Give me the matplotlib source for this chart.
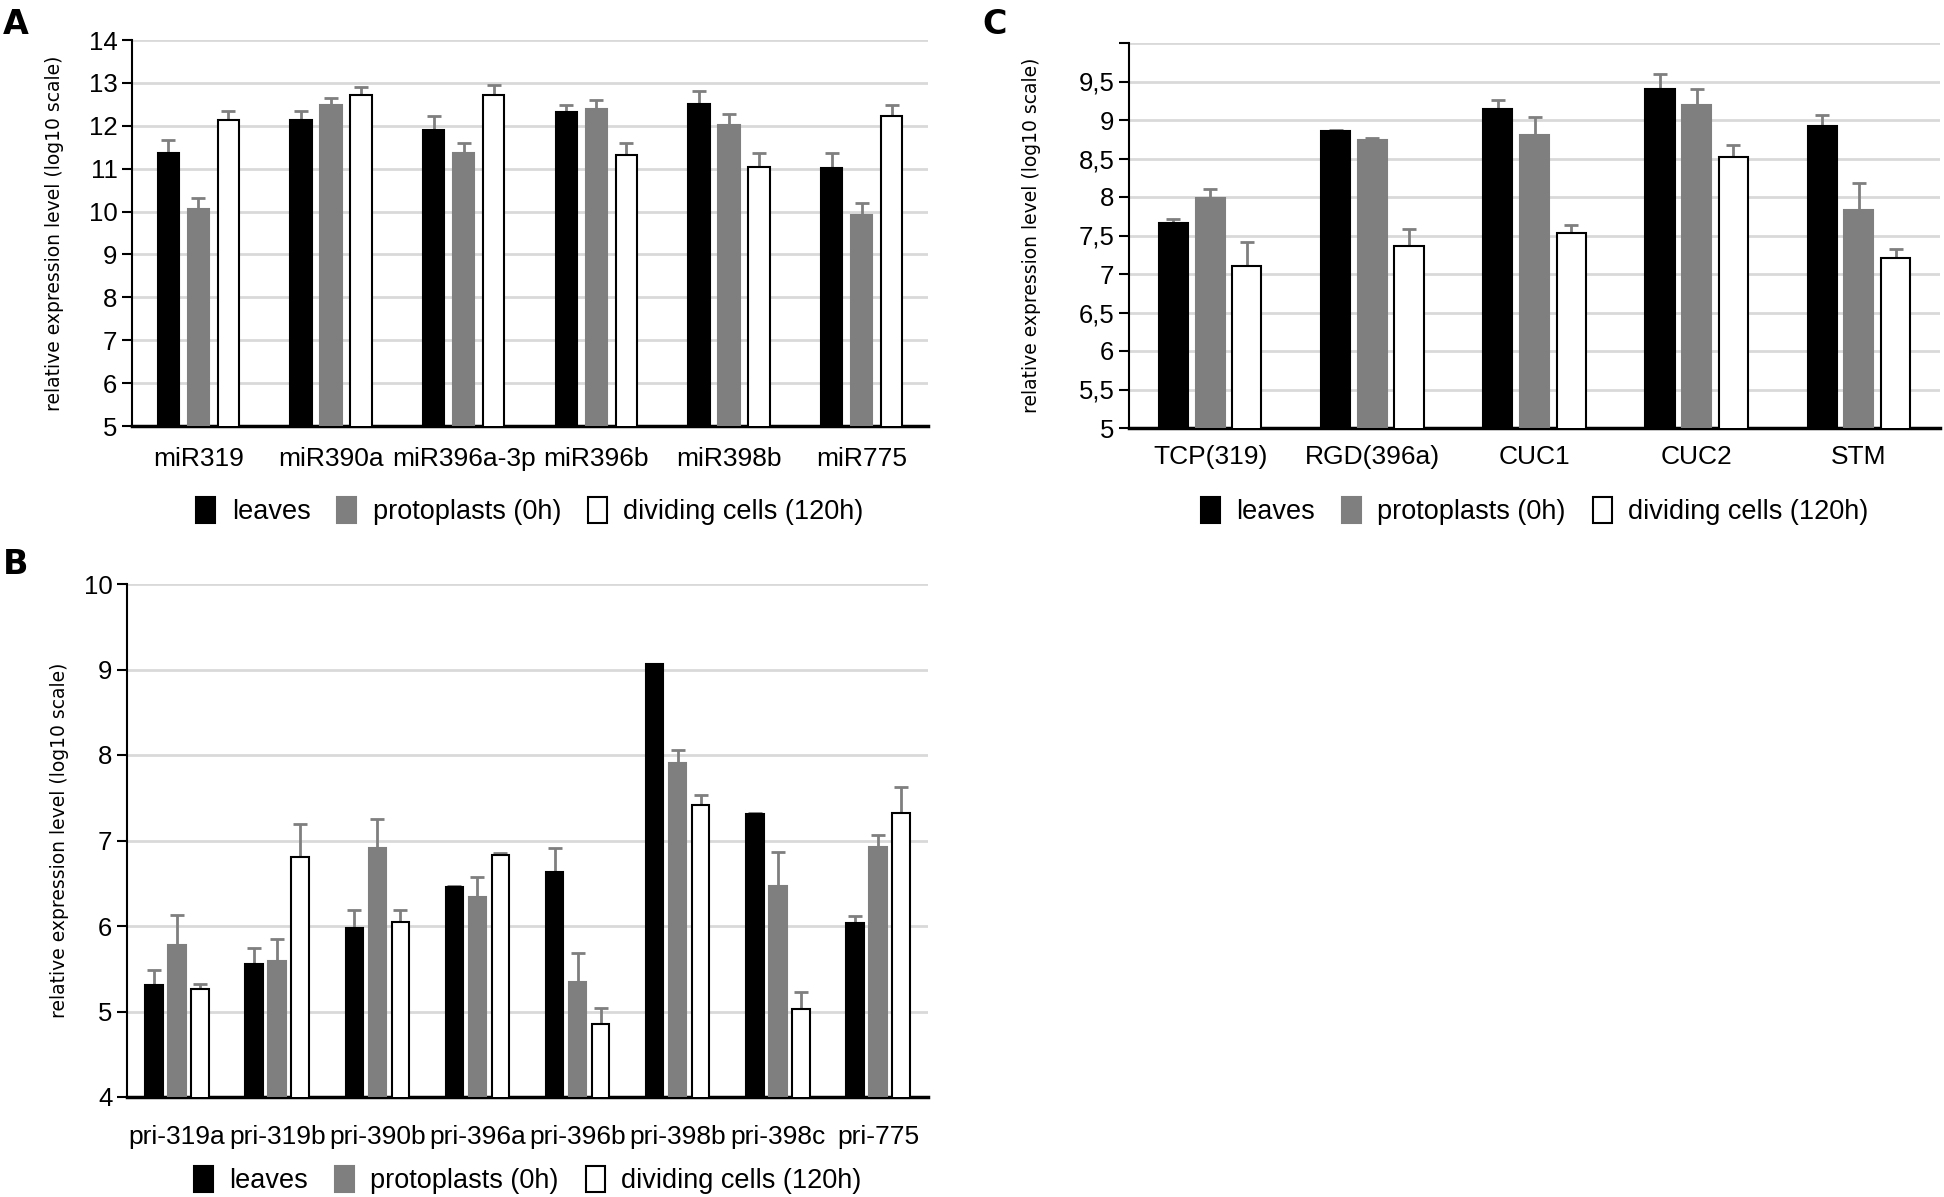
import matplotlib
matplotlib.use('Agg')
import matplotlib.pyplot as plt
import numpy as np
from matplotlib.patches import Patch
from matplotlib.ticker import FuncFormatter

# ---- data ----
series = ['leaves', 'protoplasts (0h)', 'dividing cells (120h)']

catA = ['miR319', 'miR390a', 'miR396a-3p', 'miR396b', 'miR398b', 'miR775']
leavesA = [11.37, 12.14, 11.89, 12.31, 12.50, 11.02]
protoA = [10.07, 12.49, 11.37, 12.39, 12.02, 9.93]
dividA = [12.14, 12.71, 12.71, 11.31, 11.05, 12.22]
leavesA_err = [0.29, 0.21, 0.34, 0.18, 0.32, 0.34]
protoA_err = [0.25, 0.16, 0.22, 0.22, 0.25, 0.26]
dividA_err = [0.21, 0.20, 0.25, 0.28, 0.31, 0.27]

catB = ['pri-319a', 'pri-319b', 'pri-390b', 'pri-396a', 'pri-396b', 'pri-398b', 'pri-398c', 'pri-775']
leavesB = [5.31, 5.55, 5.98, 6.46, 6.63, 9.06, 7.31, 6.04]
protoB = [5.78, 5.59, 6.91, 6.34, 5.34, 7.91, 6.47, 6.92]
dividB = [5.26, 6.81, 6.05, 6.83, 4.85, 7.41, 5.03, 7.32]
leavesB_err = [0.17, 0.19, 0.21, 0.01, 0.28, 0.01, 0.01, 0.08]
protoB_err = [0.35, 0.26, 0.34, 0.23, 0.34, 0.15, 0.39, 0.14]
dividB_err = [0.06, 0.38, 0.14, 0.02, 0.19, 0.12, 0.20, 0.31]

catC = ['TCP(319)', 'RGD(396a)', 'CUC1', 'CUC2', 'STM']
leavesC = [7.66, 8.86, 9.14, 9.40, 8.92]
protoC = [7.99, 8.74, 8.80, 9.19, 7.83]
dividC = [7.11, 7.36, 7.53, 8.52, 7.21]
leavesC_err = [0.05, 0.01, 0.12, 0.20, 0.14]
protoC_err = [0.11, 0.02, 0.24, 0.21, 0.35]
dividC_err = [0.31, 0.22, 0.10, 0.15, 0.12]

colors = ['black', '#7f7f7f', 'white']
edges = ['black', '#7f7f7f', 'black']
sans = ['Liberation Sans', 'DejaVu Sans']

W, H = 1944, 1197
fig = plt.figure(figsize=(W / 100, H / 100), dpi=100)


def px_axes(l, t, r, b):
    return fig.add_axes([l / W, 1 - b / H, (r - l) / W, (b - t) / H])


def panel(ax, cats, vals, errs, ylim, yticks, fmt, bw, step, legend_y, xpad):
    x = np.arange(len(cats))
    for i in range(3):
        ax.bar(x + (i - 1) * step, vals[i], bw, bottom=0, color=colors[i],
               edgecolor=edges[i], linewidth=1.5, zorder=3)
        ax.errorbar(x + (i - 1) * step, vals[i], yerr=[np.zeros(len(cats)), errs[i]],
                    fmt='none', ecolor='#7f7f7f', elinewidth=2, capsize=5,
                    capthick=2, zorder=2)
    ax.set_xlim(-0.5, len(cats) - 0.5)
    ax.set_ylim(*ylim)
    ax.set_yticks(yticks)
    ax.yaxis.set_major_formatter(FuncFormatter(fmt))
    ax.set_xticks(x)
    ax.set_xticklabels(cats, fontsize=19, family=sans)
    for lab in ax.get_yticklabels():
        lab.set_family(sans)
    ax.tick_params(axis='y', labelsize=18.5, length=7, width=1.5, direction='out')
    ax.tick_params(axis='x', length=0, pad=xpad)
    ax.grid(axis='y', color='#d9d9d9', linewidth=2, zorder=0)
    ax.set_axisbelow(True)
    for s in ['top', 'right']:
        ax.spines[s].set_visible(False)
    ax.spines['left'].set_linewidth(1.5)
    ax.spines['bottom'].set_linewidth(2.5)
    ax.set_ylabel('relative expression level (log10 scale)', fontsize=13.5)
    handles = [Patch(facecolor=colors[i], edgecolor=edges[i], linewidth=1.5, label=series[i])
               for i in range(3)]
    ax.legend(handles=handles, loc='center', bbox_to_anchor=(0.5, legend_y), ncol=3,
              frameon=False, prop={'family': sans, 'size': 19.5},
              handlelength=0.7, handleheight=1.1, handletextpad=0.6, columnspacing=1.0)


intfmt = lambda v, p: '%d' % round(v)


def commafmt(v, p):
    if abs(v - 10) < 1e-6:
        return ''
    return ('%g' % v).replace('.', ',')


axA = px_axes(132, 40, 928, 426)
panel(axA, catA, [leavesA, protoA, dividA], [leavesA_err, protoA_err, dividA_err],
      (5, 14), np.arange(5, 15), intfmt, 0.16, 0.226, -0.22, 15)
axA.yaxis.set_label_coords(-0.085, 0.5)

axC = px_axes(1129, 43, 1940, 428)
panel(axC, catC, [leavesC, protoC, dividC], [leavesC_err, protoC_err, dividC_err],
      (5, 10), np.arange(5, 10.01, 0.5), commafmt, 0.18, 0.226, -0.215, 12)
axC.yaxis.set_label_coords(-0.108, 0.5)

axB = px_axes(127, 584, 928, 1097)
panel(axB, catB, [leavesB, protoB, dividB], [leavesB_err, protoB_err, dividB_err],
      (4, 10), np.arange(4, 11), intfmt, 0.175, 0.23, -0.162, 20)
axB.yaxis.set_label_coords(-0.072, 0.5)

fig.text(3 / W, 1 - 8 / H, 'A', fontsize=24, fontweight='bold', va='top', ha='left')
fig.text(3 / W, 1 - 548 / H, 'B', fontsize=24, fontweight='bold', va='top', ha='left')
fig.text(982 / W, 1 - 8 / H, 'C', fontsize=24, fontweight='bold', va='top', ha='left')

fig.savefig('out.png', dpi=100, facecolor='white')
